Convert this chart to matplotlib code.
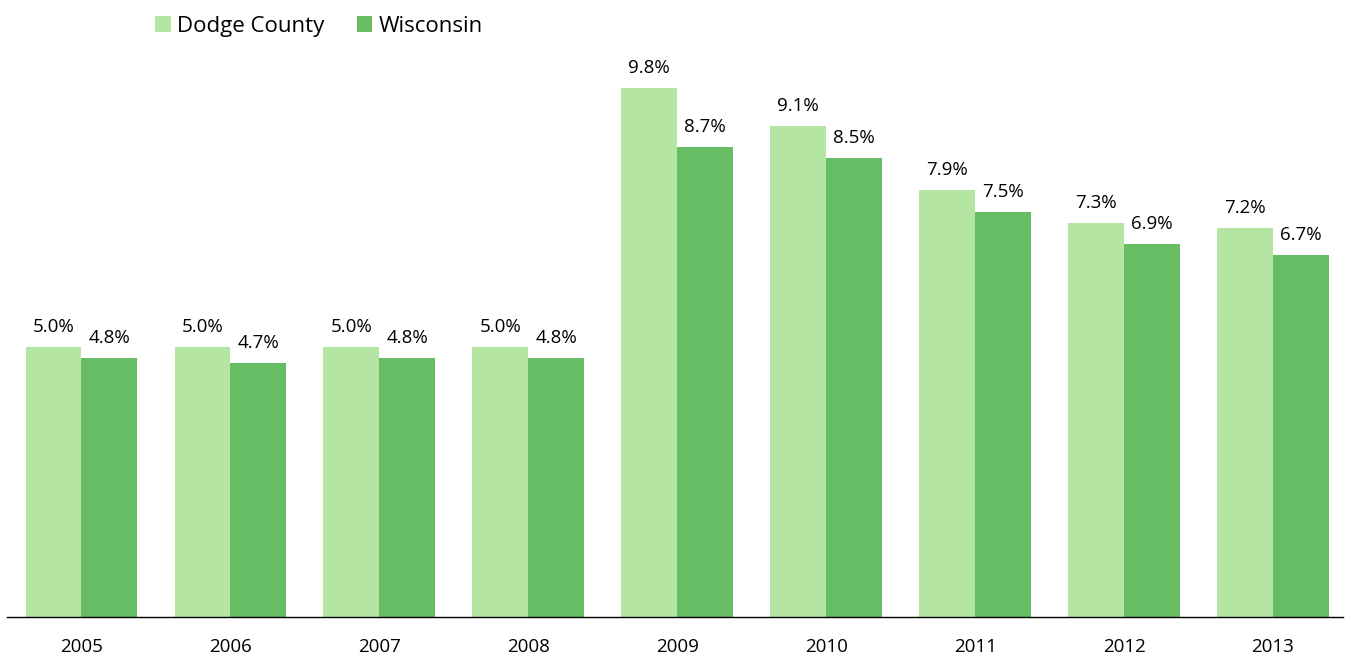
import matplotlib
matplotlib.use("Agg")
import matplotlib.pyplot as plt
import numpy as np

years = ["2005", "2006", "2007", "2008", "2009", "2010", "2011", "2012", "2013"]
dodge = [5.0, 5.0, 5.0, 5.0, 9.8, 9.1, 7.9, 7.3, 7.2]
wisconsin = [4.8, 4.7, 4.8, 4.8, 8.7, 8.5, 7.5, 6.9, 6.7]
series_names = ["Dodge County", "Wisconsin"]
colors = ["#B5E5A2", "#66BD63"]

plt.rcParams['font.family'] = ['Open Sans', 'DejaVu Sans']

W, H = 1351, 658
fig = plt.figure(figsize=(W / 100, H / 100), dpi=100)
ax = fig.add_axes([7 / W, 41 / H, 1336 / W, 577 / H])

x = np.arange(len(years))
bw = 0.375
b1 = ax.bar(x - bw / 2, dodge, bw, color=colors[0], label=series_names[0])
b2 = ax.bar(x + bw / 2, wisconsin, bw, color=colors[1], label=series_names[1])

for bars, vals in ((b1, dodge), (b2, wisconsin)):
    for r, v in zip(bars, vals):
        ax.annotate(f"{v:.1f}%", (r.get_x() + r.get_width() / 2, v),
                    xytext=(0, 11), textcoords="offset pixels",
                    ha="center", va="bottom", fontsize=13.5, color="#000000")

ax.set_xlim(-0.5, 8.47)
ax.set_ylim(0, 577 / 54)
ax.set_xticks(x)
ax.set_xticklabels(years, fontsize=13.5)
ax.tick_params(axis="x", length=0, pad=15)
ax.set_yticks([])
for s in ("top", "right", "left"):
    ax.spines[s].set_visible(False)
ax.spines["bottom"].set_color("#000000")
ax.spines["bottom"].set_linewidth(1.0)

leg = fig.legend(handles=[b1, b2], labels=series_names, loc="upper left",
                 bbox_to_anchor=(135 / W, 1 + 4 / H), ncol=2, frameon=False,
                 fontsize=16, handlelength=0.7, handleheight=0.7,
                 handletextpad=0.3, columnspacing=1.45)

fig.savefig("out.png", dpi=100)
